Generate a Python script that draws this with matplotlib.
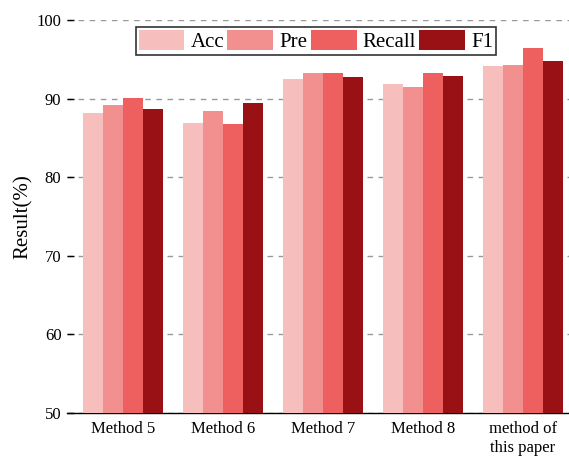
import matplotlib
matplotlib.use("Agg")
import matplotlib.pyplot as plt
import numpy as np

categories = ["Method 5", "Method 6", "Method 7", "Method 8", "method of\nthis paper"]
series_names = ["Acc", "Pre", "Recall", "F1"]
acc = [88.2, 86.9, 92.5, 91.8, 94.1]
pre = [89.2, 88.4, 93.3, 91.5, 94.3]
recall = [90.1, 86.8, 93.2, 93.3, 96.4]
f1 = [88.7, 89.4, 92.8, 92.9, 94.8]
colors = ["#F7BEBE", "#F29090", "#EE6060", "#9A1115"]

plt.rcParams['font.family'] = ['Liberation Serif', 'DejaVu Serif']

fig = plt.figure(figsize=(5.69, 4.58), dpi=100)
ax = fig.add_axes([67/569, 45/458, 502/569, 393/458])

x = np.arange(len(categories))
w = 0.2
for i, (vals, name) in enumerate(zip([acc, pre, recall, f1], series_names)):
    ax.bar(x + (i - 1.5) * w, np.array(vals) - 50, w, bottom=50, color=colors[i],
           label=name, zorder=3, edgecolor='none')

ax.set_ylim(50, 100)
ax.set_xlim(-0.56, 4.46)
ax.set_yticks([50, 60, 70, 80, 90, 100])
ax.set_xticks(x)
ax.set_xticklabels(categories, fontsize=12)
ax.tick_params(axis='y', labelsize=12, direction='in', length=5, width=1, pad=4)
ax.tick_params(axis='x', direction='in', length=5, width=1, pad=6)
ax.set_ylabel("Result(%)", fontsize=15, labelpad=3)
ax.yaxis.grid(True, linestyle=(0, (4, 4)), color='#999999', linewidth=1, zorder=0)
ax.set_axisbelow(True)
for s in ['left', 'top', 'right']:
    ax.spines[s].set_visible(False)
ax.spines['bottom'].set_linewidth(1)

leg = ax.legend(loc='upper center', bbox_to_anchor=(0.496, 0.983), ncol=4, fontsize=15,
                frameon=True, fancybox=False, handlelength=2.2, handleheight=1.1,
                handletextpad=0.3, columnspacing=0.15, borderpad=0.15, borderaxespad=0)
leg.get_frame().set_edgecolor('#333333')
leg.get_frame().set_linewidth(1.2)
leg.get_frame().set_alpha(1)

fig.savefig("out.png", dpi=100)
